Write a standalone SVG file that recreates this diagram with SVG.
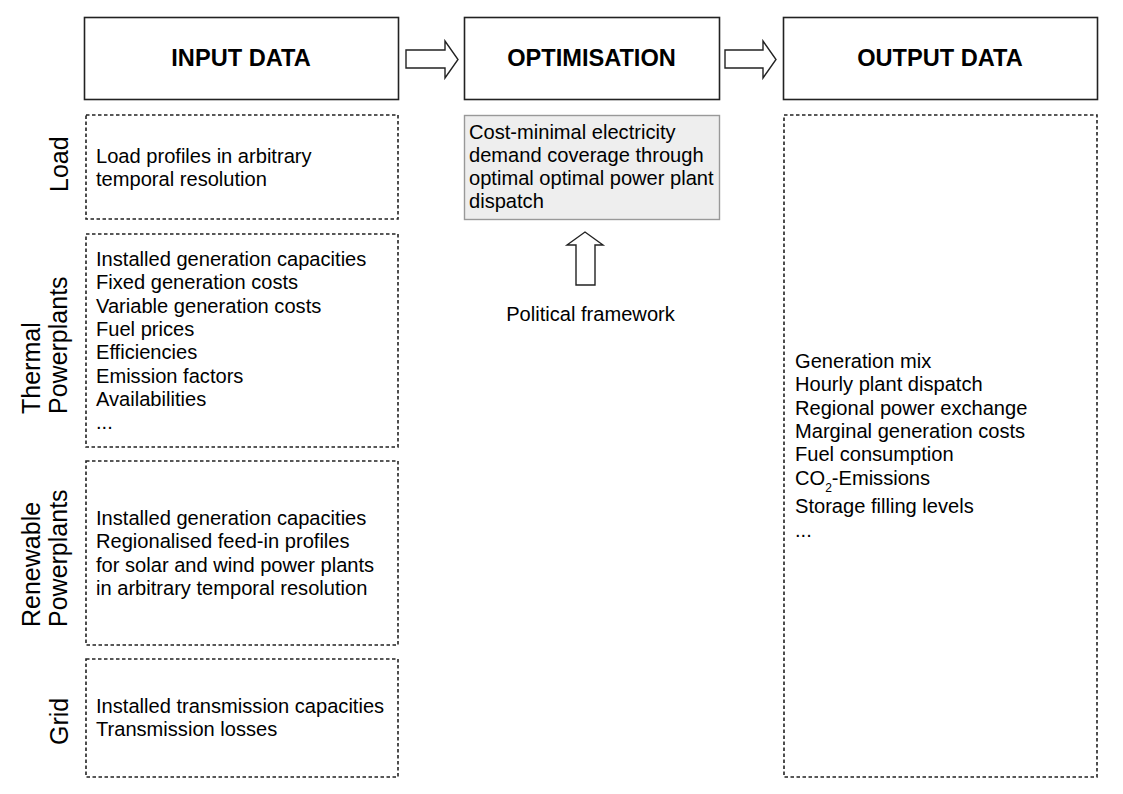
<svg xmlns="http://www.w3.org/2000/svg" width="1123" height="794" viewBox="0 0 1123 794">
<style>
text{font-family:"Liberation Sans",Arial,sans-serif;fill:#000}
.title{font-size:23.6px;font-weight:bold;text-anchor:middle}
.body{font-size:20.1px}
.side{font-size:25px}
.head{fill:#fff;stroke:#222;stroke-width:1.6}
.dash{fill:#fff;stroke:#222;stroke-width:1.6;stroke-dasharray:3.5,2.5}
.arrow{fill:#fff;stroke:#222;stroke-width:1.4;stroke-linejoin:miter}
</style>
<rect width="1123" height="794" fill="#fff"/>
<g id="input-data"><rect class="head" x="84.5" y="17.5" width="314" height="82"/><text class="title" x="241" y="66">INPUT DATA</text></g>
<g id="optimisation"><rect class="head" x="464.5" y="17.5" width="255" height="82"/><text class="title" x="591.5" y="66">OPTIMISATION</text></g>
<g id="output-data"><rect class="head" x="783.5" y="17.5" width="314" height="82"/><text class="title" x="940" y="66">OUTPUT DATA</text></g>
<g id="load"><rect class="dash" x="86" y="115" width="312" height="104"/>
<text class="side" transform="translate(68,192) rotate(-90)">Load</text>
<text class="body" x="96" y="163">Load profiles in arbitrary</text>
<text class="body" x="96" y="186">temporal resolution</text></g>
<g id="thermal"><rect class="dash" x="86" y="234" width="312" height="213"/>
<text class="side" transform="translate(40,414) rotate(-90)">Thermal</text>
<text class="side" transform="translate(67,414) rotate(-90)">Powerplants</text>
<text class="body" x="96" y="266">Installed generation capacities</text>
<text class="body" x="96" y="289.3">Fixed generation costs</text>
<text class="body" x="96" y="312.6">Variable generation costs</text>
<text class="body" x="96" y="336">Fuel prices</text>
<text class="body" x="96" y="359.3">Efficiencies</text>
<text class="body" x="96" y="382.6">Emission factors</text>
<text class="body" x="96" y="406">Availabilities</text>
<text class="body" x="96" y="429.3">...</text></g>
<g id="renewable"><rect class="dash" x="86" y="461" width="312" height="184"/>
<text class="side" transform="translate(40,627) rotate(-90)">Renewable</text>
<text class="side" transform="translate(67,627) rotate(-90)">Powerplants</text>
<text class="body" x="96" y="525">Installed generation capacities</text>
<text class="body" x="96" y="548.4">Regionalised feed-in profiles</text>
<text class="body" x="96" y="571.8">for solar and wind power plants</text>
<text class="body" x="96" y="595.2">in arbitrary temporal resolution</text></g>
<g id="grid"><rect class="dash" x="86" y="659" width="312" height="118"/>
<text class="side" transform="translate(68,745) rotate(-90)">Grid</text>
<text class="body" x="96" y="713">Installed transmission capacities</text>
<text class="body" x="96" y="736.4">Transmission losses</text></g>
<g id="optimisation-desc"><rect x="464.5" y="115.5" width="255" height="104" fill="#eeeeee" stroke="#999" stroke-width="1.4"/>
<text class="body" x="469" y="139">Cost-minimal electricity</text>
<text class="body" x="469" y="162">demand coverage through</text>
<text class="body" x="469" y="185">optimal optimal power plant</text>
<text class="body" x="469" y="208">dispatch</text></g>
<g id="political-framework"><text class="body" x="590.5" y="321" text-anchor="middle" fill="#222">Political framework</text></g>
<g id="output-list"><rect class="dash" x="784" y="115" width="313" height="662"/>
<text class="body" x="795" y="368">Generation mix</text>
<text class="body" x="795" y="391.3">Hourly plant dispatch</text>
<text class="body" x="795" y="414.6">Regional power exchange</text>
<text class="body" x="795" y="438">Marginal generation costs</text>
<text class="body" x="795" y="461.3">Fuel consumption</text>
<text class="body" x="795" y="484.6">CO<tspan font-size="12" dy="7">2</tspan><tspan dy="-7">-Emissions</tspan></text>
<text class="body" x="795" y="513">Storage filling levels</text>
<text class="body" x="795" y="537">...</text></g>
<g id="connectors">
<path class="arrow" d="M406,50 H445 V41 L458,59.5 L445,78 V68 H406 Z"/>
<path class="arrow" d="M725,50 H763 V41 L776,59.5 L763,78 V68 H725 Z"/>
<path class="arrow" d="M576,285 V245 H567 L585,232 L603,245 H595 V285 Z"/>
</g>
</svg>
